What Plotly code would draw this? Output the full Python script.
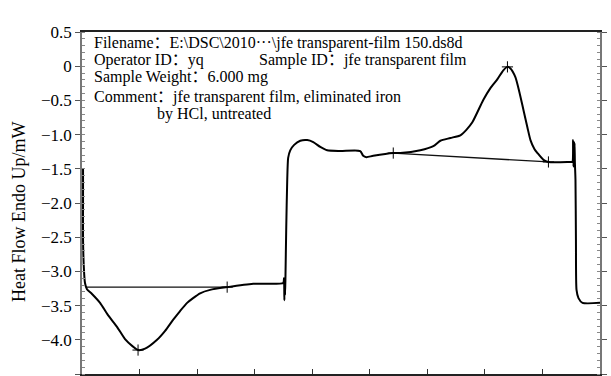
import plotly.graph_objects as go

# DSC trace: time (min) vs heat flow (mW), endo up
time_min = [0.09, 0.09, 0.09, 0.17, 0.26, 0.43, 0.87, 1.57, 2.26, 3.04, 3.74, 4.43, 4.87,
            5.48, 6.52, 7.22, 7.91, 8.52, 9.13, 9.65, 10.26, 11.13, 12.61, 14.87, 17.48,
            17.55, 17.58, 17.61, 17.64, 17.67, 17.74, 17.83, 17.91, 18.09, 18.43, 18.96,
            19.57, 20.09, 20.70, 21.30, 22.43, 24.17, 24.43, 24.70, 25.30, 27.04, 27.65,
            29.39, 30.52, 31.13, 32.00, 32.87, 33.39, 33.91, 34.87, 35.48, 36.09, 36.60,
            36.96, 37.20, 37.65, 38.00, 38.35, 38.70, 38.96, 39.30, 39.57, 40.09, 40.52,
            42.43, 42.60, 42.66, 42.70, 42.73, 42.76, 42.79, 42.82, 42.87, 42.91, 42.96,
            43.13, 43.48, 45.00]
heat_flow = [-1.49, -1.96, -2.54, -2.98, -3.17, -3.26, -3.33, -3.46, -3.64, -3.81, -3.99,
             -4.10, -4.15, -4.13, -4.00, -3.87, -3.71, -3.58, -3.46, -3.39, -3.32, -3.27,
             -3.23, -3.18, -3.17, -3.10, -3.42, -3.12, -3.35, -3.14, -2.39, -1.66, -1.34,
             -1.23, -1.15, -1.09, -1.08, -1.11, -1.18, -1.23, -1.24, -1.24, -1.31, -1.33,
             -1.31, -1.27, -1.27, -1.23, -1.17, -1.09, -1.05, -1.01, -0.93, -0.82, -0.49,
             -0.32, -0.19, -0.06, -0.01, -0.03, -0.16, -0.38, -0.64, -0.90, -1.08, -1.21,
             -1.27, -1.37, -1.40, -1.40, -1.40, -1.08, -1.47, -1.10, -1.45, -1.12, -1.42,
             -1.66, -2.54, -3.27, -3.39, -3.46, -3.46]

# integration baselines
base1_time = [0.35, 12.61]
base1_flow = [-3.23, -3.23]
base2_time = [27.04, 40.52]
base2_flow = [-1.27, -1.40]

# integration limit / peak markers
mark_time = [12.61, 4.87, 27.04, 36.96, 40.52]
mark_flow = [-3.23, -4.15, -1.27, -0.01, -1.40]

y_ticks = [0.5, 0, -0.5, -1.0, -1.5, -2.0, -2.5, -3.0, -3.5, -4.0, -4.5]
y_tick_text = ["0.5", "0", "\u22120.5", "\u22121.0", "\u22121.5", "\u22122.0", "\u22122.5",
               "\u22123.0", "\u22123.5", "\u22124.0", "\u22124.5"]
x_ticks = [0, 5, 10, 15, 20, 25, 30, 35, 40, 45]

info_lines = [
    "Filename\uff1aE:\\DSC\\2010\u00b7\u00b7\u00b7\\jfe transparent-film 150.ds8d",
    "Operator ID\uff1ayq",
    "Sample Weight\uff1a6.000 mg",
    "Comment\uff1ajfe transparent film, eliminated iron",
    "by HCl, untreated",
]
sample_id = "Sample ID\uff1ajfe transparent film"
y_title = "Heat Flow Endo Up/mW"

SERIF = "Liberation Serif, Times New Roman, Noto Sans CJK SC, serif"

fig = go.Figure()
fig.add_trace(go.Scatter(x=base1_time, y=base1_flow, mode="lines",
                         line=dict(color="#111", width=1.3), showlegend=False))
fig.add_trace(go.Scatter(x=base2_time, y=base2_flow, mode="lines",
                         line=dict(color="#111", width=1.3), showlegend=False))
fig.add_trace(go.Scatter(x=time_min, y=heat_flow, mode="lines",
                         line=dict(color="#000", width=2, shape="spline", smoothing=0.6),
                         showlegend=False))
fig.add_trace(go.Scatter(x=mark_time, y=mark_flow, mode="markers",
                         marker=dict(symbol="cross-thin", size=8,
                                     line=dict(color="#000", width=1)),
                         showlegend=False))

# plot area in pixels: x 82..600, y 32..374
L, R, T, B = 82, 600, 32, 374
W, H = R - L, B - T

def px(x):
    return (x - L) / W

def py(y):
    return (B - y) / H

line_pos = [(92, 43), (92, 60), (92, 77), (92, 97), (155, 114)]
for text, (xp, yp) in zip(info_lines, line_pos):
    fig.add_annotation(x=px(xp), y=py(yp), xref="paper", yref="paper", text=text,
                       showarrow=False, xanchor="left", yanchor="middle",
                       font=dict(family=SERIF, size=16, color="#000"))
fig.add_annotation(x=px(257), y=py(60), xref="paper", yref="paper", text=sample_id,
                   showarrow=False, xanchor="left", yanchor="middle",
                   font=dict(family=SERIF, size=16, color="#000"))
fig.add_annotation(x=px(19), y=py(212), xref="paper", yref="paper", text=y_title,
                   showarrow=False, textangle=-90, xanchor="center", yanchor="middle",
                   font=dict(family=SERIF, size=18, color="#000"))

fig.update_xaxes(range=[0, 45], tickvals=x_ticks, showticklabels=False,
                 ticks="inside", ticklen=5, tickcolor="#333", tickwidth=1,
                 showline=True, linecolor="#222", linewidth=1.5, mirror=True,
                 showgrid=False, zeroline=False)
fig.update_yaxes(range=[-4.5, 0.5], tickvals=y_ticks, ticktext=y_tick_text,
                 ticks="outside", ticklen=5, tickcolor="#555", tickwidth=1,
                 minor=dict(dtick=0.1, ticks="inside", ticklen=3, tickcolor="#888"),
                 showline=True, linecolor="#777", linewidth=1.5, mirror="ticks",
                 showgrid=False, zeroline=False,
                 tickfont=dict(family=SERIF, size=17, color="#000"))

fig.update_layout(width=611, height=376,
                  margin=dict(l=L, r=611 - R, t=T, b=376 - B),
                  plot_bgcolor="white", paper_bgcolor="white")

fig.write_html("out.html")
